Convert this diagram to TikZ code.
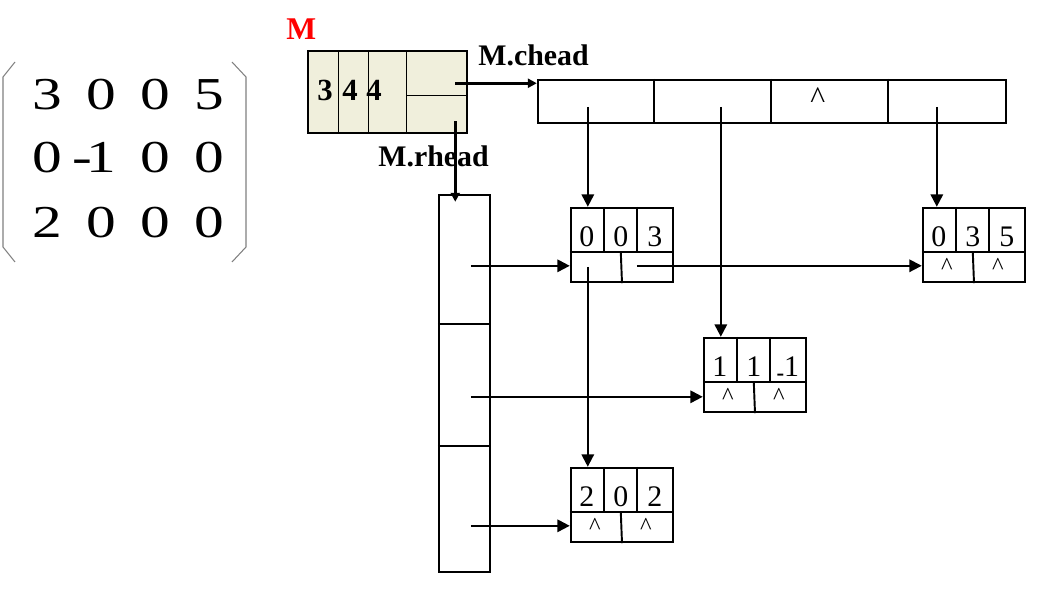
\documentclass[tikz,border=0pt]{standalone}
\usepackage{fontspec}
\setmainfont{Liberation Serif}
\usetikzlibrary{arrows.meta}
\definecolor{mfill}{RGB}{240,239,220}

% one list node: name, centre, row, col, value, lower left, lower right
\newcommand{\listnode}[7]{%
  \node[box,minimum width=2.04cm,minimum height=1.48cm] (#1) at #2 {};
  \draw[cell] (#1.north west) ++(0,45) -- ++(102,0);
  \draw[cell] (#1.north west) ++(34,0) -- ++(0,45);
  \draw[cell] (#1.north west) ++(67,0) -- ++(0,45);
  \draw[cell] (#1.north west) ++(51,45) -- (#1.south);
  \node[num] (#1-i) at ([shift={(17,40)}]#1.north west) {#3};
  \node[num] (#1-j) at ([shift={(51,40)}]#1.north west) {#4};
  \node[num] (#1-v) at ([shift={(85,40)}]#1.north west) {#5};
  \node[nil] (#1-d) at ([shift={(25,60)}]#1.north west) {#6};
  \node[nil] (#1-r) at ([shift={(76,60)}]#1.north west) {#7};
}
\newcommand{\wide}[1]{\scalebox{1.3}[1]{#1}}

\begin{document}
\begin{tikzpicture}[x=0.02cm,y=-0.02cm]
\tikzset{
  box/.style={draw,rectangle,inner sep=0pt,line width=1.4pt},
  cell/.style={line width=1.1pt},
  ptr/.style={line width=1.1pt,-{Triangle[length=2.5mm,width=2.5mm]}},
  mat/.style={inner sep=0pt,anchor=base,font=\fontsize{26}{26}\selectfont},
  num/.style={inner sep=0pt,anchor=base,font=\fontsize{17}{17}\selectfont},
  nil/.style={inner sep=0pt,font=\fontsize{14}{14}\selectfont},
  lbl/.style={inner sep=0pt,anchor=base west,font=\bfseries\fontsize{17}{17}\selectfont},
  hv/.style={inner sep=0pt,anchor=base,font=\bfseries\fontsize{17.5}{17.5}\selectfont}
}
\useasboundingbox (0,0) rectangle (1042,590);

% the matrix
\foreach \t [count=\c] in {3,0,0,5}
  \node[mat] (a1\c) at ({54*\c-7},110) {\wide{\t}};
\foreach \t [count=\c] in {0,\llap{-\kern-2.5pt}1,0,0}
  \node[mat] (a2\c) at ({54*\c-7},173) {\wide{\t}};
\foreach \t [count=\c] in {2,0,0,0}
  \node[mat] (a3\c) at ({54*\c-7},238) {\wide{\t}};
\draw[gray,line width=0.6pt] (15,62) -- (3,77) -- (3,247) -- (15,262);
\draw[gray,line width=0.6pt] (232,62) -- (246,77) -- (246,247) -- (232,262);

% head of the cross list
\node[lbl,text=red,font=\bfseries\fontsize{18}{18}\selectfont] (mname) at (286,40) {M};
\node[box,fill=mfill,line width=0.85pt,minimum width=3.18cm,minimum height=1.64cm] (mhd) at (387.5,92) {};
\draw[line width=0.85pt] (mhd.north west) ++(31,0) -- ++(0,82);
\draw[line width=0.85pt] (mhd.north west) ++(61,0) -- ++(0,82);
\draw[line width=0.85pt] (mhd.north west) ++(99,0) -- ++(0,82);
\draw[line width=0.85pt] (mhd.north west) ++(99,45) -- ++(60,0);
\node[hv] (mrows) at (325,101) {3};
\node[hv] (mcols) at (350,101) {4};
\node[hv] (mnums) at (374,101) {4};
\coordinate (chs) at ([shift={(148,33)}]mhd.north west);
\coordinate (rhs) at ([shift={(148,71)}]mhd.north west);
\node[lbl] (lchead) at (478,66) {M.chead};
\node[lbl] (lrhead) at (378,167) {M.rhead};

% column heads
\node[box,minimum width=9.36cm,minimum height=0.86cm] (chd) at (772,101.5) {};
\foreach \k in {117,234,351}
  \draw[cell] (chd.north west) ++(\k,0) -- ++(0,43);
\node[nil,font=\fontsize{18}{18}\selectfont] (chd-n) at ([shift={(281,19)}]chd.north west) {\textasciicircum};
\coordinate (c1) at ([shift={(51,28)}]chd.north west);
\coordinate (c2) at ([shift={(184,28)}]chd.north west);
\coordinate (c4) at ([shift={(400,28)}]chd.north west);

% row heads
\node[box,minimum width=1.02cm,minimum height=7.54cm] (rhd) at (464.5,383.5) {};
\draw[cell] (rhd.north west) ++(0,130) -- ++(51,0);
\draw[cell] (rhd.north west) ++(0,252) -- ++(51,0);
\coordinate (r1) at ([shift={(33,72)}]rhd.north west);
\coordinate (r2) at ([shift={(33,203)}]rhd.north west);
\coordinate (r3) at ([shift={(33,332)}]rhd.north west);

% the nonzero entries
\listnode{n003}{(622,245)}{0}{0}{3}{}{}
\listnode{n11}{(755,375)}{1}{1}{\raisebox{-2pt}{\bfseries\fontsize{13}{13}\selectfont -}1}{\textasciicircum}{\textasciicircum}
\listnode{n035}{(974,245)}{0}{3}{5}{\textasciicircum}{\textasciicircum}
\listnode{n202}{(622,505)}{2}{0}{2}{\textasciicircum}{\textasciicircum}
\coordinate (d1) at ([shift={(18,60)}]n003.north west);
\coordinate (p1) at ([shift={(67,59)}]n003.north west);

% pointers
\draw[ptr,line width=1.6pt,-{Triangle[length=1.8mm,width=1.8mm]}] (chs) -- (chs -| chd.west);
\draw[ptr,line width=1.6pt,-{Triangle[length=1.8mm,width=1.8mm]}] (rhs) -- ([yshift=-0.16cm]rhs |- rhd.north);
\draw[ptr] (c1) -- (c1 |- n003.north);
\draw[ptr] (c2) -- (c2 |- n11.north);
\draw[ptr] (c4) -- (c4 |- n035.north);
\draw[ptr] (r1) -- (r1 -| n003.west);
\draw[ptr] (r2) -- (r2 -| n11.west);
\draw[ptr] (r3) -- (r3 -| n202.west);
\draw[ptr] (d1) -- (d1 |- n202.north);
\draw[ptr] (p1) -- (p1 -| n035.west);
\end{tikzpicture}
\end{document}
